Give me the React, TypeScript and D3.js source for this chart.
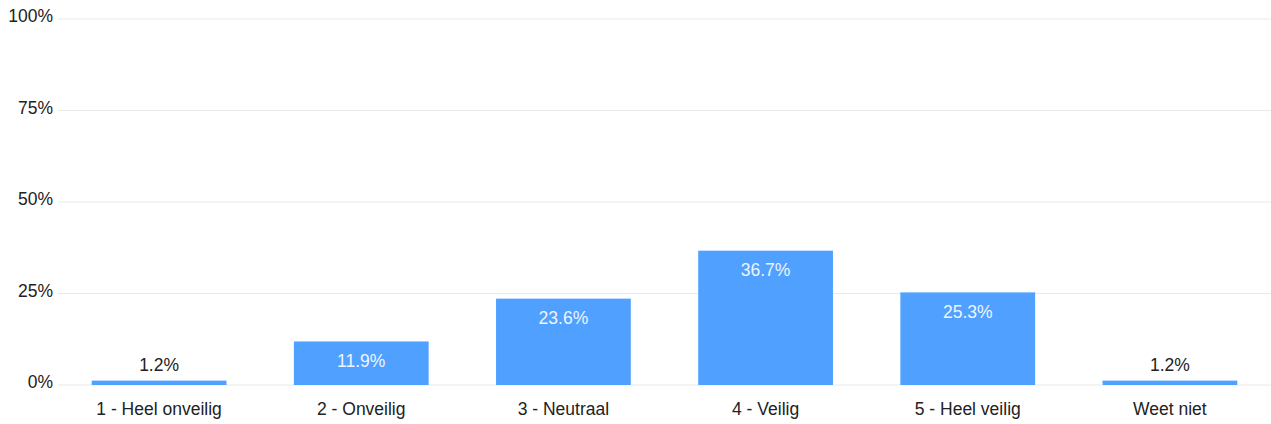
import React from "react";
import * as d3 from "d3";

const categories = ["1 - Heel onveilig", "2 - Onveilig", "3 - Neutraal", "4 - Veilig", "5 - Heel veilig", "Weet niet"];
const values = [1.2, 11.9, 23.6, 36.7, 25.3, 1.2];
const yTicks = [0, 25, 50, 75, 100];

const W = 1271;
const H = 424;

export default function App() {
  const x = d3.scaleBand<string>().domain(categories).range([58, 1271]).paddingInner(1 / 3).paddingOuter(1 / 6);
  const y = d3.scaleLinear().domain([0, 100]).range([385, 19]);
  const font = "'Liberation Sans', Arial, sans-serif";
  const fs = 17.5;
  return (
    <svg width={W} height={H} style={{ position: "absolute", left: 0, top: 0, background: "#fff" }} fontFamily={font}>
      {yTicks.map((t) => (
        <g key={t}>
          <line x1={58} x2={W} y1={y(t)} y2={y(t)} stroke="#e9e9e9" strokeWidth={1} />
          <text x={53} y={y(t) + 3} textAnchor="end" fontSize={fs} fill="#222">{t}%</text>
        </g>
      ))}
      {categories.map((c, i) => {
        const v = values[i];
        const bx = x(c)!;
        const top = y(v);
        const inside = v >= 5;
        return (
          <g key={c}>
            <rect x={bx} y={top} width={x.bandwidth()} height={y(0) - top} fill="#50a1ff" />
            <text x={bx + x.bandwidth() / 2} y={inside ? top + 25.5 : top - 10} textAnchor="middle" fontSize={fs} fill={inside ? "#eef4ff" : "#222"}>
              {v.toFixed(1)}%
            </text>
            <text x={bx + x.bandwidth() / 2} y={415} textAnchor="middle" fontSize={fs} fill="#222">{c}</text>
          </g>
        );
      })}
    </svg>
  );
}
